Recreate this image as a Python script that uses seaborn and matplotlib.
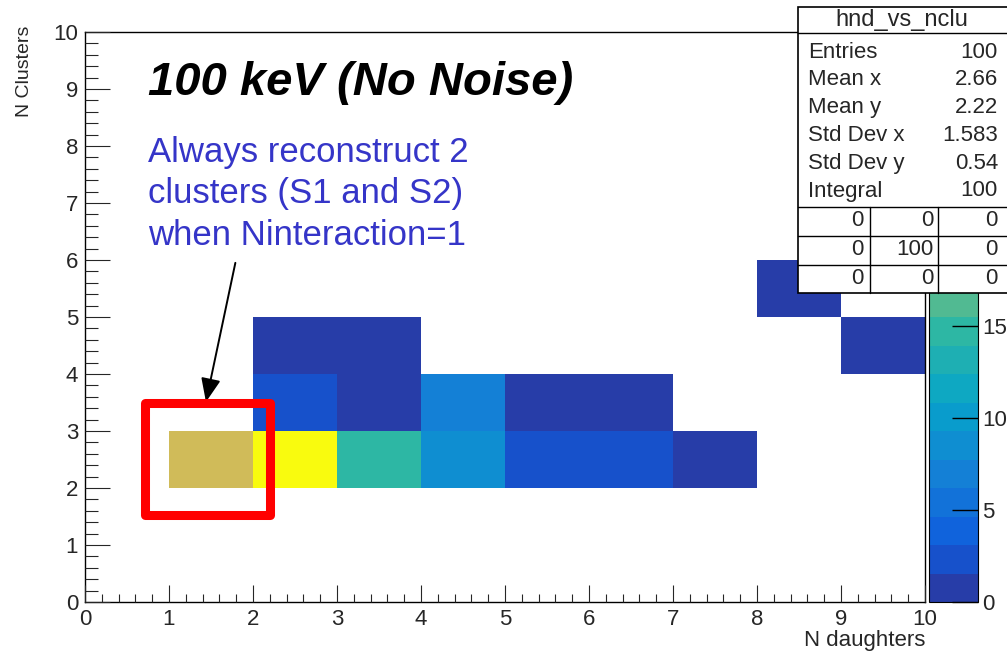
import numpy as np
import pandas as pd
import matplotlib
matplotlib.use("Agg")
import matplotlib.pyplot as plt
import seaborn as sns
from matplotlib.colors import LinearSegmentedColormap, ListedColormap
from matplotlib.patches import Rectangle
from matplotlib.ticker import MultipleLocator

# Filled bins of hnd_vs_nclu: (N daughters, N clusters) -> entries
n_daughters = [1, 2, 3, 4, 5, 6, 7, 2, 3, 4, 5, 6, 2, 3, 9, 8]
n_clusters = [2, 2, 2, 2, 2, 2, 2, 3, 3, 3, 3, 3, 4, 4, 4, 5]
entries = [23, 31, 15, 8, 3, 2, 1, 3, 1, 7, 1, 1, 1, 1, 1, 1]

n_bins = 10
n_levels = 20
z_ticks = [0, 5, 10, 15]   # scale labels left uncovered by the stats box
hist_name = "hnd_vs_nclu"
title_text = "100 keV (No Noise)"
note_text = "Always reconstruct 2\nclusters (S1 and S2)\nwhen Ninteraction=1"

sns.set_style("white")
plt.rcParams["font.family"] = ["Liberation Sans", "DejaVu Sans"]

df = pd.DataFrame({"nd": n_daughters, "nclu": n_clusters, "w": entries})
grid = (df.pivot_table(index="nclu", columns="nd", values="w", aggfunc="sum")
          .reindex(index=range(n_bins), columns=range(n_bins)))

# ROOT "kBird" palette, sampled into discrete contour levels
bird_stops = [(0.2082, 0.1664, 0.5293), (0.0592, 0.3599, 0.8684),
              (0.0780, 0.5041, 0.8385), (0.0232, 0.6419, 0.7914),
              (0.1802, 0.7178, 0.6425), (0.5301, 0.7492, 0.4662),
              (0.8186, 0.7328, 0.3499), (0.9956, 0.7862, 0.1968),
              (0.9764, 0.9832, 0.0539)]
bird = LinearSegmentedColormap.from_list("bird", bird_stops)
cmap = ListedColormap([bird((i + 0.99) / n_levels) for i in range(n_levels)])
zmax = max(entries)

W, H = 1007, 652
fig = plt.figure(figsize=(W / 100, H / 100), dpi=100)
ax = fig.add_axes([85 / W, 50 / H, 840 / W, 570 / H])
cax = fig.add_axes([929 / W, 50 / H, 49 / W, 570 / H])

sns.heatmap(grid, ax=ax, cmap=cmap, vmin=0, vmax=zmax, cbar_ax=cax,
            linewidths=0, xticklabels=False, yticklabels=False)

ax.set_xlim(0, n_bins)
ax.set_ylim(0, n_bins)
ax.set_axisbelow(False)
for s in ax.spines.values():
    s.set_visible(True)
    s.set_linewidth(1.0)
    s.set_color("black")

ax.xaxis.set_major_locator(MultipleLocator(1))
ax.xaxis.set_minor_locator(MultipleLocator(0.2))
ax.yaxis.set_major_locator(MultipleLocator(1))
ax.yaxis.set_minor_locator(MultipleLocator(0.2))
ax.set_xticklabels([f"{int(v)}" for v in ax.get_xticks()])
ax.set_yticklabels([f"{int(v)}" for v in ax.get_yticks()])
ax.tick_params(axis="x", which="major", direction="in", length=12, width=0.8,
               labelsize=16, pad=5, bottom=True, top=False)
ax.tick_params(axis="x", which="minor", direction="in", length=6, width=0.8,
               bottom=True, top=False)
ax.tick_params(axis="y", which="major", direction="in", length=18, width=0.8,
               labelsize=16, pad=5, left=True, right=False)
ax.tick_params(axis="y", which="minor", direction="in", length=9, width=0.8,
               left=True, right=False)

ax.set_xlabel("N daughters", loc="right", fontsize=16)
ax.xaxis.set_label_coords(1.0, -0.049)
ax.set_ylabel("N Clusters", loc="top", fontsize=14)
ax.yaxis.set_label_coords(-0.062, 1.012)

# colour scale
cbar = ax.collections[0].colorbar
cbar.set_ticks(z_ticks)
cbar.outline.set_visible(True)
cbar.outline.set_linewidth(0.8)
cbar.outline.set_edgecolor("black")
cax.set_axisbelow(False)
cax.yaxis.set_ticks_position("right")
cax.tick_params(axis="y", direction="in", length=19, width=1.0,
                labelsize=16, pad=3, color="black")
cax.minorticks_off()

# annotations
ax.text(0.75, 8.89, title_text, fontsize=34, fontweight="bold",
        fontstyle="italic", ha="left", va="baseline", color="black")
ax.text(0.75, 6.27, note_text, fontsize=25, color="#3535c8",
        ha="left", va="baseline", linespacing=1.32)
ax.annotate("", xy=(1.44, 3.51), xytext=(1.79, 5.95),
            arrowprops=dict(arrowstyle="-|>,head_length=0.72,head_width=0.3",
                            mutation_scale=20, color="black", lw=1.4,
                            shrinkA=0, shrinkB=0),
            annotation_clip=False)
ax.add_patch(Rectangle((0.714, 1.518), 1.488, 1.972, fill=False,
                       edgecolor="red", lw=6.5, joinstyle="round",
                       clip_on=False, zorder=5))

# statistics box
mean_x = np.average(n_daughters, weights=entries)
mean_y = np.average(n_clusters, weights=entries)
std_x = np.sqrt(np.average((np.array(n_daughters) - mean_x) ** 2, weights=entries))
std_y = np.sqrt(np.average((np.array(n_clusters) - mean_y) ** 2, weights=entries))
total = int(sum(entries))
stat_rows = [("Entries", f"{total}"), ("Mean x", f"{mean_x:.4g}"),
             ("Mean y", f"{mean_y:.4g}"), ("Std Dev x", f"{std_x:.4g}"),
             ("Std Dev y", f"{std_y:.4g}"), ("Integral", f"{total}")]
table = [["0", "0", "0"], ["0", f"{total}", "0"], ["0", "0", "0"]]

ov = fig.add_axes([0, 0, 1, 1], facecolor="none")
ov.set_zorder(10)
ov.set_xlim(0, W)
ov.set_ylim(H, 0)
ov.axis("off")
ov.add_patch(Rectangle((798, 7), 215, 286, facecolor="white",
                       edgecolor="black", lw=1.2))
for yl in (33, 207, 236, 265):
    ov.plot([798, 1010], [yl, yl], color="black", lw=1.0)
for xl in (870, 938):
    ov.plot([xl, xl], [207, 293], color="black", lw=1.0)
ov.text(902, 20, hist_name, fontsize=17, ha="center", va="center")
for i, (k, v) in enumerate(stat_rows):
    yy = 52 + i * 27.8
    ov.text(808, yy, k, fontsize=16, ha="left", va="center")
    ov.text(998, yy, v, fontsize=16, ha="right", va="center")
for r, row in enumerate(table):
    for c, v in enumerate(row):
        ov.text((863, 934, 998)[c], 221 + r * 28.5, v, fontsize=16,
                ha="right", va="center")

fig.savefig("out.png", dpi=100)
